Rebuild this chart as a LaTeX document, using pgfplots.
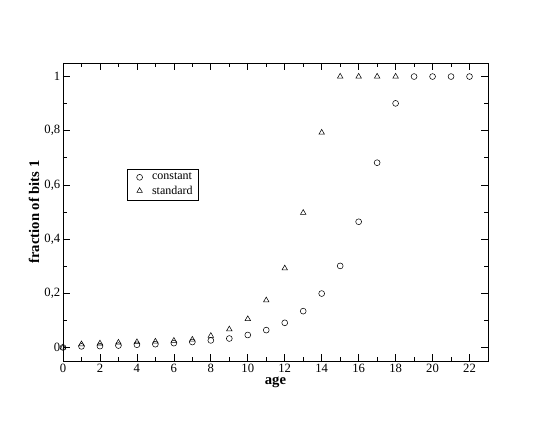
\documentclass[border=0pt]{standalone}
\usepackage{fontspec}
\setmainfont{Liberation Serif}
\usepackage{pgfplots}
\pgfplotsset{compat=1.18}

\begin{document}
\begin{tikzpicture}
\begin{axis}[
    scale only axis,
    width=318.75pt, height=223.5pt,
    xmin=0, xmax=23,
    ymin=-0.05, ymax=1.05,
    xtick={0,2,...,22},
    minor xtick={1,3,...,21},
    ytick={0,0.2,0.4,0.6,0.8,1},
    minor ytick={0.1,0.3,0.5,0.7,0.9},
    tick align=inside,
    major tick length=5pt,
    minor tick length=3pt,
    tick style={black, line width=0.5pt},
    axis line style={line width=0.6pt},
    /pgf/number format/use comma,
    /pgf/number format/assume math mode=true,
    ticklabel style={font=\fontsize{9.5}{10}\selectfont},
    xticklabel style={yshift=1.5pt},
    yticklabel style={xshift=1.5pt},
    xlabel={\textbf{age}},
    ylabel={\textbf{fraction of bits 1}},
    label style={font=\fontsize{11}{12}\selectfont},
    xlabel style={yshift=3pt},
    ylabel style={yshift=-3pt},
    clip=false,
    legend image code/.code={
        \path (0cm,0cm) (0.5cm,0cm);
        \draw[#1] plot coordinates {(0.25cm,0cm)};
    },
    legend style={at={(axis cs:3.46,0.66)}, anchor=north west,
        font=\fontsize{9}{10}\selectfont, draw=black, line width=0.4pt,
        inner xsep=2pt, inner ysep=1pt, row sep=-1pt, cells={anchor=west}},
    legend cell align=left,
]
\addplot[only marks, mark=o, mark size=2.2pt, black, line width=0.4pt] coordinates {
    (0,0) (1,0.004) (2,0.005) (3,0.007) (4,0.010) (5,0.012) (6,0.016) (7,0.020)
    (8,0.026) (9,0.033) (10,0.046) (11,0.064) (12,0.091) (13,0.134) (14,0.199)
    (15,0.301) (16,0.464) (17,0.682) (18,0.901) (19,1) (20,1) (21,1) (22,1)
};
\addlegendentry{constant}
\addplot[only marks, mark=triangle, mark size=2.4pt, black, line width=0.4pt] coordinates {
    (0,0) (1,0.012) (2,0.015) (3,0.018) (4,0.020) (5,0.022) (6,0.025) (7,0.029)
    (8,0.043) (9,0.067) (10,0.105) (11,0.174) (12,0.292) (13,0.497) (14,0.793)
    (15,1) (16,1) (17,1) (18,1)
};
\addlegendentry{standard}
\end{axis}
\pgfresetboundingbox
\path ([shift={(-47.25pt,-48pt)}]current axis.south west)
    rectangle ([shift={(46.5pt,47.25pt)}]current axis.north east);
\end{tikzpicture}
\end{document}
